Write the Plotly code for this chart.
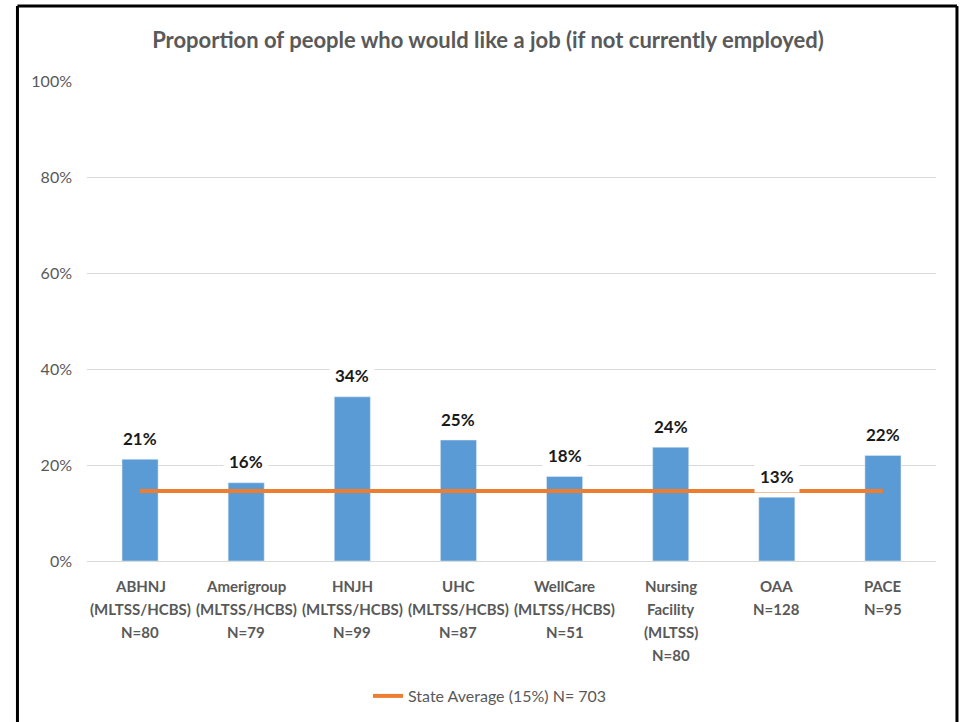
import plotly.graph_objects as go

categories = ["ABHNJ<br>(MLTSS/HCBS)<br>N=80", "Amerigroup<br>(MLTSS/HCBS)<br>N=79",
              "HNJH<br>(MLTSS/HCBS)<br>N=99", "UHC<br>(MLTSS/HCBS)<br>N=87",
              "WellCare<br>(MLTSS/HCBS)<br>N=51", "Nursing<br>Facility<br>(MLTSS)<br>N=80",
              "OAA<br>N=128", "PACE<br>N=95"]
keys = ["ABHNJ", "Amerigroup", "HNJH", "UHC", "WellCare", "Nursing", "OAA", "PACE"]
values = [21.2, 16.3, 34.2, 25.2, 17.6, 23.7, 13.3, 22.0]
value_labels = ["21%", "16%", "34%", "25%", "18%", "24%", "13%", "22%"]
state_avg = 14.6
state_label = "State Average (15%) N= 703"
y_ticks = [0, 20, 40, 60, 80, 100]
y_tick_labels = ["0%", "20%", "40%", "60%", "80%", "100%"]
title = "Proportion of people who would like a job (if not currently employed)"

FONT = "Lato"
GRAY = "#595959"

fig = go.Figure()
fig.add_trace(go.Bar(x=keys, y=values, marker_color="#5B9BD5", width=0.34,
                     showlegend=False, hoverinfo="skip"))
fig.add_trace(go.Scatter(x=keys, y=[state_avg] * len(keys), mode="lines",
                         line=dict(color="#ED7D31", width=4), name=state_label))

annotations = []
for k, v, lab in zip(keys, values, value_labels):
    annotations.append(dict(x=k, y=v, xref="x", yref="y", text=lab, showarrow=False,
                            yanchor="middle", yshift=21,
                            font=dict(family=FONT, size=17, color="#1a1a1a", weight="bold"),
                            bgcolor="white", borderpad=5))
for k, cat in zip(keys, categories):
    for i, line in enumerate(cat.split("<br>")):
        annotations.append(dict(x=k, y=0, xref="x", yref="paper", text=line, showarrow=False,
                                yanchor="middle", yshift=-25 - 23 * i,
                                font=dict(family=FONT, size=15, color=GRAY, weight="bold")))

shapes = [
    dict(type="line", xref="paper", yref="paper", x0=-0.0819, x1=-0.0819, y0=-0.40, y1=1.1563,
         line=dict(color="black", width=3)),
    dict(type="line", xref="paper", yref="paper", x0=-0.0819, x1=1.0247, y0=1.1563, y1=1.1563,
         line=dict(color="black", width=3)),
    dict(type="line", xref="paper", yref="paper", x0=1.0247, x1=1.0247, y0=-0.40, y1=1.1563,
         line=dict(color="black", width=3)),
]

fig.update_layout(
    width=962, height=722,
    margin=dict(l=87, r=26, t=81, b=161),
    paper_bgcolor="white", plot_bgcolor="white",
    title=dict(text=f"<b>{title}</b>", x=488 / 962, xref="container", xanchor="center",
               y=1 - 40 / 722, yref="container", yanchor="middle",
               font=dict(family=FONT, size=22, color=GRAY)),
    font=dict(family=FONT, color=GRAY),
    xaxis=dict(showticklabels=False, showgrid=False, showline=False, zeroline=False,
               range=[-0.5, len(keys) - 0.5]),
    yaxis=dict(range=[0, 100], tickvals=y_ticks, ticktext=y_tick_labels,
               showgrid=True, gridcolor="#D9D9D9", gridwidth=1, zeroline=True,
               zerolinecolor="#D9D9D9", zerolinewidth=1,
               tickfont=dict(family=FONT, size=16, color=GRAY), ticks="", ticklen=0,
               ticklabelstandoff=14, showline=False),
    showlegend=True,
    legend=dict(orientation="h", x=490 / 962, xref="container", xanchor="center",
                y=1 - 696 / 722, yref="container", yanchor="middle",
                font=dict(family=FONT, size=16, color=GRAY)),
    annotations=annotations,
    shapes=shapes,
    bargap=0.66,
)

fig.write_html("out.html", config={"displayModeBar": False},
               post_script="document.body.style.margin='0px';")
